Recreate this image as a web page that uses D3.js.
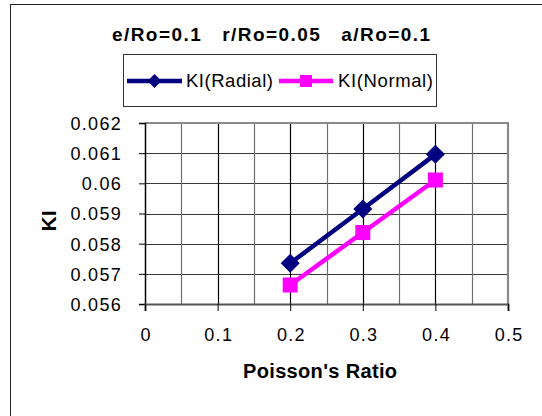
<!DOCTYPE html>
<html>
<head>
<meta charset="utf-8">
<script src="https://cdn.jsdelivr.net/npm/d3@7/dist/d3.min.js"></script>
<style>
  html, body { margin: 0; padding: 0; background: #fff; }
  svg { display: block; font-family: "Liberation Sans", Arial, sans-serif; }
</style>
</head>
<body>
<svg id="chart" width="542" height="416"></svg>
<script>
// Stress intensity factor KI versus Poisson's ratio
const poisson = [0.2, 0.3, 0.4];
const kiRadial = [0.05735, 0.05915, 0.06096];
const kiNormal = [0.05663, 0.05837, 0.06011];
const xTicks = [0, 0.1, 0.2, 0.3, 0.4, 0.5];
const yTicks = [0.056, 0.057, 0.058, 0.059, 0.06, 0.061, 0.062];
const seriesNames = ["KI(Radial)", "KI(Normal)"];
const titleText = "e/Ro=0.1   r/Ro=0.05   a/Ro=0.1";

const svg = d3.select("#chart");
const plot = { left: 145, right: 508, top: 123, bottom: 304 };
const FONT = "Liberation Sans, Arial, sans-serif";

const x = d3.scaleLinear().domain([0, 0.5]).range([plot.left, plot.right]);
const y = d3.scaleLinear().domain([0.056, 0.062]).range([plot.bottom, plot.top]);

// chart frame
svg.append("rect").attr("x", 10.5).attr("y", 4.5).attr("width", 540).attr("height", 420)
  .attr("fill", "none").attr("stroke", "#222").attr("stroke-width", 1);

// title
svg.append("text").attr("x", 112).attr("y", 41)
  .attr("font-size", 19).attr("font-weight", "bold")
  .attr("textLength", 318).attr("lengthAdjust", "spacing")
  .style("white-space", "pre").text(titleText);

// grid: horizontal lines at each y tick
const grid = svg.append("g");
grid.selectAll("line.h").data(yTicks.slice(1, -1)).join("line")
  .attr("x1", plot.left).attr("x2", plot.right)
  .attr("y1", d => Math.round(y(d)) + 0.5).attr("y2", d => Math.round(y(d)) + 0.5)
  .attr("stroke", "#3a3a3a").attr("stroke-width", 1.2);
// vertical lines every 0.05; majors darker
const vGrid = d3.range(1, 10).map(i => i * 0.05);
grid.selectAll("line.v").data(vGrid).join("line")
  .attr("y1", plot.top).attr("y2", plot.bottom)
  .attr("x1", d => Math.round(x(d)) + 0.5).attr("x2", d => Math.round(x(d)) + 0.5)
  .attr("stroke", (d, i) => i % 2 === 1 ? "#000" : "#6e6e6e").attr("stroke-width", 1.2);

// plot border (top/right gray)
svg.append("path")
  .attr("d", `M${plot.left},${plot.top}H${plot.right}V${plot.bottom}`)
  .attr("fill", "none").attr("stroke", "#8a8a8a").attr("stroke-width", 2.2);

// axes
const yAxis = d3.axisLeft(y).tickValues(yTicks).tickSize(6).tickPadding(17)
  .tickFormat(d => d3.format("")(+d.toFixed(3)));
const gy = svg.append("g").attr("transform", `translate(${plot.left},0)`).call(yAxis);
gy.select(".domain").attr("stroke", "#000").attr("stroke-width", 1.5);
gy.selectAll(".tick line").attr("stroke", "#000");
gy.selectAll("text").attr("font-size", 18).attr("font-family", FONT)
  .attr("fill", "#000").attr("dy", "0.36em").style("letter-spacing", "1.3px");

const xAxis = d3.axisBottom(x).tickValues(xTicks).tickSize(7).tickPadding(17)
  .tickFormat(d => String(d));
const gx = svg.append("g").attr("transform", `translate(0,${plot.bottom})`).call(xAxis);
gx.select(".domain").attr("stroke", "#555").attr("stroke-width", 2.2);
gx.selectAll(".tick line").attr("stroke", "#000");
gx.selectAll("text").attr("font-size", 18).attr("font-family", FONT)
  .attr("fill", "#000").attr("dy", "0.71em").attr("dx", "0.65px").style("letter-spacing", "1.3px");

// axis titles
svg.append("text").attr("x", 243).attr("y", 378)
  .attr("font-size", 20).attr("font-weight", "bold")
  .attr("textLength", 154).attr("lengthAdjust", "spacing").text("Poisson's Ratio");
svg.append("text").attr("transform", "translate(56,221) rotate(-90)").attr("text-anchor", "middle")
  .attr("font-size", 21).attr("font-weight", "bold").text("KI");

// series
const series = [
  { name: seriesNames[0], values: kiRadial, color: "#000080", marker: "diamond" },
  { name: seriesNames[1], values: kiNormal, color: "#ff00ff", marker: "square" }
];
const line = d3.line().x(d => x(d[0])).y(d => y(d[1]));

function drawMarker(g, type, cx, cy, size, color) {
  if (type === "diamond") {
    const s = size / 2;
    g.append("path").attr("d", `M${cx},${cy - s}L${cx + s},${cy}L${cx},${cy + s}L${cx - s},${cy}Z`)
      .attr("fill", color);
  } else {
    g.append("rect").attr("x", cx - size / 2).attr("y", cy - size / 2)
      .attr("width", size).attr("height", size).attr("fill", color);
  }
}

series.forEach(s => {
  const pts = poisson.map((p, i) => [p, s.values[i]]);
  const g = svg.append("g");
  g.append("path").attr("d", line(pts)).attr("fill", "none")
    .attr("stroke", s.color).attr("stroke-width", 4.5);
  pts.forEach(p => drawMarker(g, s.marker, x(p[0]), y(p[1]), s.marker === "diamond" ? 19 : 15, s.color));
});

// legend
const lg = svg.append("g");
lg.append("rect").attr("x", 123.5).attr("y", 54.5).attr("width", 313).attr("height", 52)
  .attr("fill", "#fff").attr("stroke", "#333").attr("stroke-width", 1);
const legendItems = [
  { x0: 127, x1: 182, tx: 186, tw: 87 },
  { x0: 279, x1: 333, tx: 338, tw: 95 }
];
series.forEach((s, i) => {
  const it = legendItems[i];
  const ly = 81;
  lg.append("line").attr("x1", it.x0).attr("x2", it.x1).attr("y1", ly).attr("y2", ly)
    .attr("stroke", s.color).attr("stroke-width", 4.5);
  drawMarker(lg, s.marker, (it.x0 + it.x1) / 2, ly, s.marker === "diamond" ? 14 : 12, s.color);
  lg.append("text").attr("x", it.tx).attr("y", 87)
    .attr("font-size", 18.5).attr("textLength", it.tw).attr("lengthAdjust", "spacing").text(s.name);
});
</script>
</body>
</html>
